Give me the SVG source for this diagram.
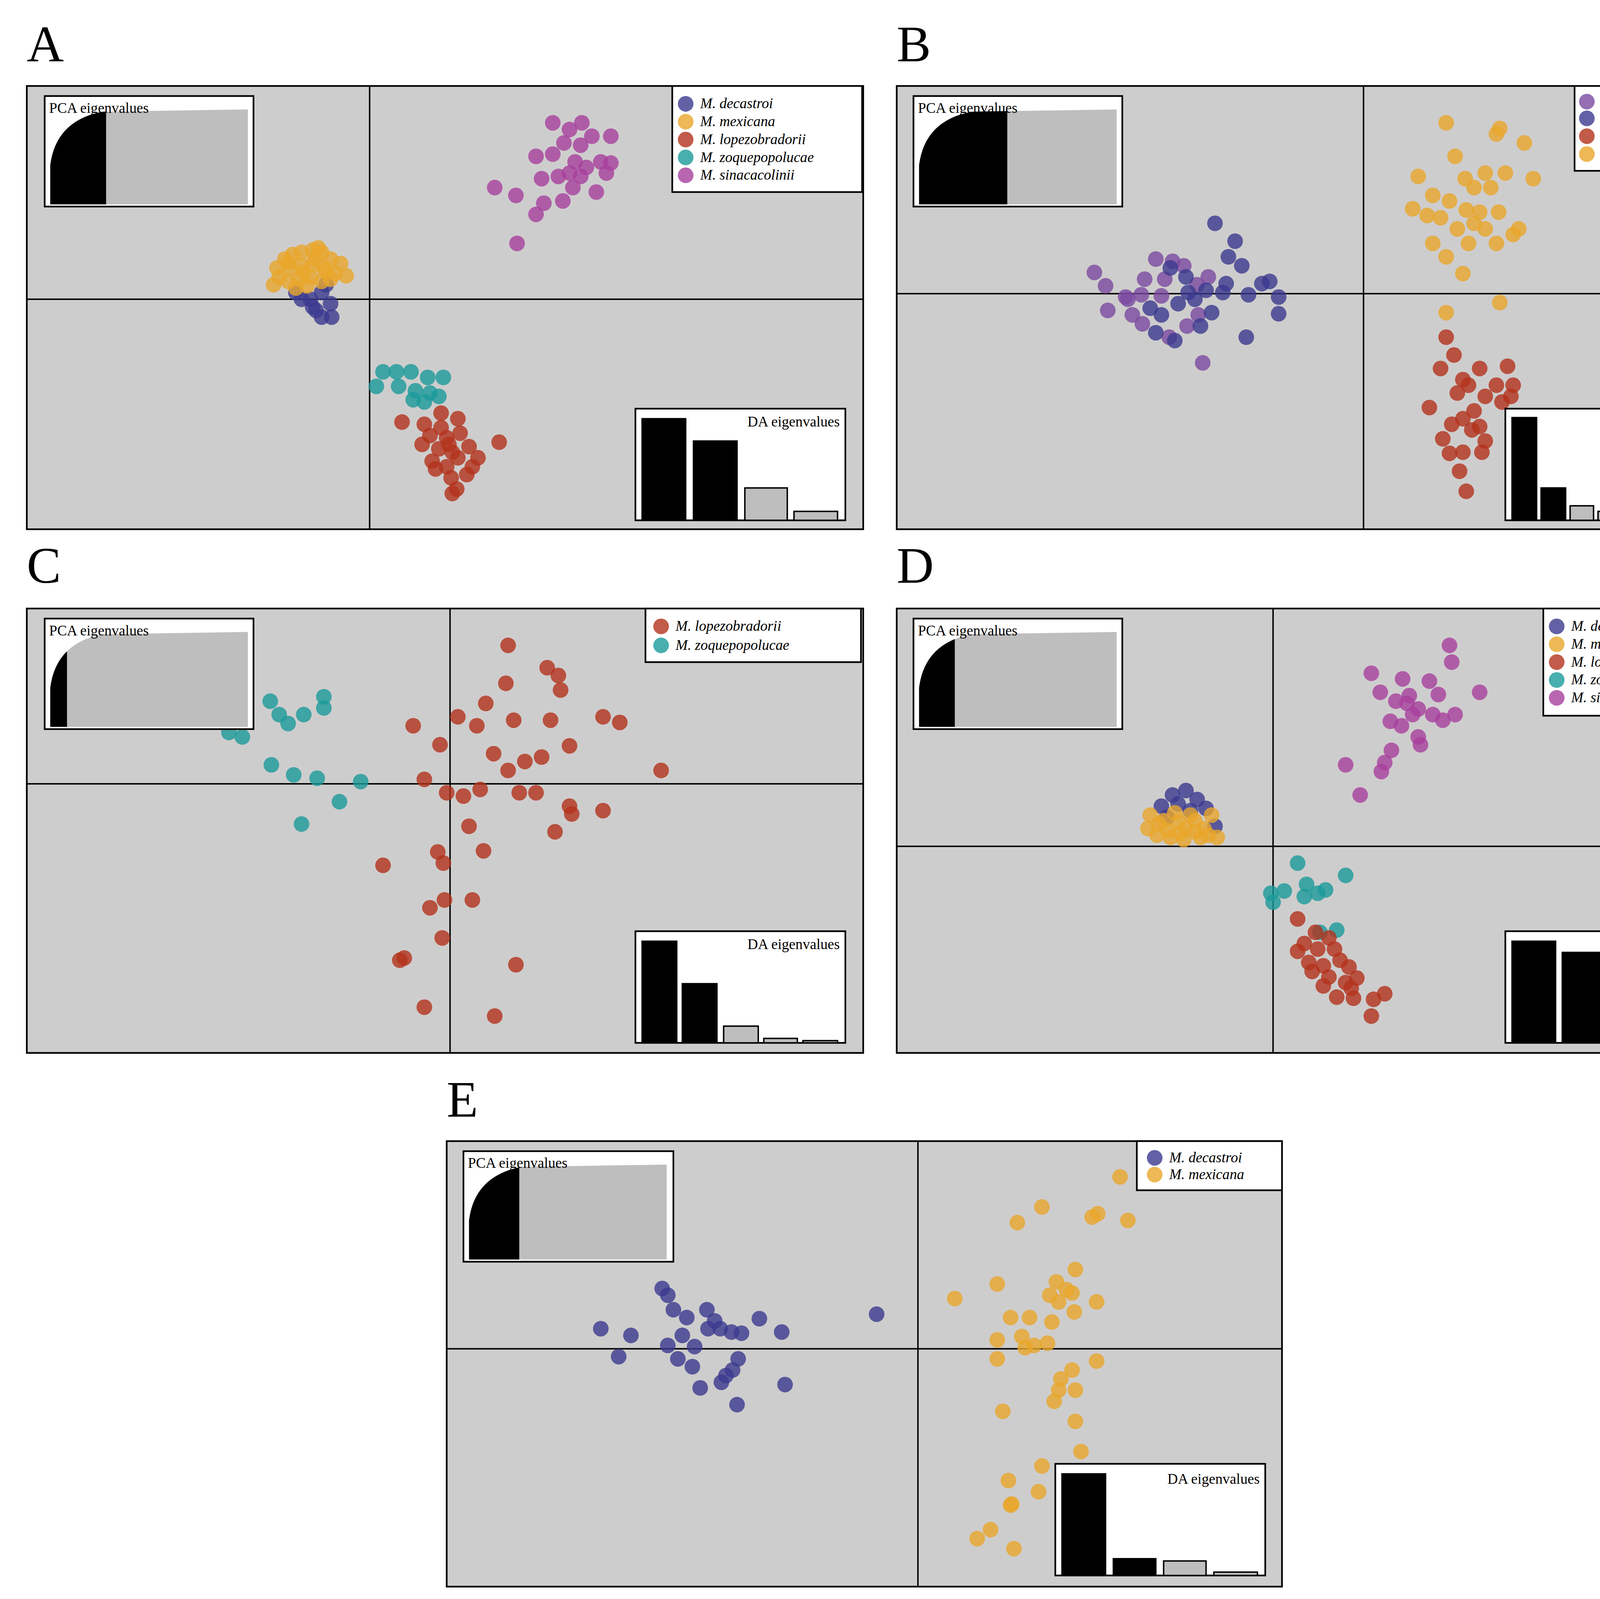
<svg xmlns="http://www.w3.org/2000/svg" width="4474" height="4094" viewBox="0 0 4474 4094">
<style>
.pan{fill:#cecdcd;stroke:#000;stroke-width:1.5}
.ax{stroke:#000;stroke-width:1.3}
.box{fill:#fff;stroke:#000;stroke-width:1.5}
.t{font-family:"Liberation Serif",serif;font-size:13px;fill:#000}
.i{font-style:italic}
.big{font-family:"Liberation Serif",serif;font-size:46px;fill:#000}
.k{fill:#000}
.g{fill:#bfbebe;stroke:#000;stroke-width:1.3}
.kb{fill:#000;stroke:#000;stroke-width:1.3}
circle{r:7px;fill-opacity:0.8}
.dec{fill:#3b3a8e}.mex{fill:#e9a62a}.lop{fill:#b3321c}.zoq{fill:#1c9a9a}.sin{fill:#a8409e}.dcc{fill:#7a4aa0}
</style>
<defs>
<path id="pca" d="M5,97 L5,62 Q10,22 52,14 L182,12 L182,97 Z"/>
<clipPath id="cA"><rect x="0" y="0" width="55" height="100"/></clipPath>
<clipPath id="cB"><rect x="0" y="0" width="84" height="100"/></clipPath>
<clipPath id="cC"><rect x="0" y="0" width="20" height="100"/></clipPath>
<clipPath id="cD"><rect x="0" y="0" width="37" height="100"/></clipPath>
<clipPath id="cE"><rect x="0" y="0" width="50" height="100"/></clipPath>
</defs>
<rect width="4474" height="4094" fill="#fff"/>
<g transform="scale(2.8588)">
<text class="big" x="24" y="55">A</text>
<text class="big" x="803" y="55">B</text>
<text class="big" x="24" y="522">C</text>
<text class="big" x="803" y="522">D</text>
<text class="big" x="400" y="1000">E</text>

<g id="panelA">
<rect class="pan" x="24" y="77" width="749" height="397"/>
<line class="ax" x1="331" y1="77" x2="331" y2="474"/><line class="ax" x1="24" y1="268" x2="773" y2="268"/>
<g class="sin"><circle cx="495" cy="110"/><circle cx="510" cy="116"/><circle cx="521" cy="110"/><circle cx="530" cy="122"/><circle cx="547" cy="122"/><circle cx="505" cy="128"/><circle cx="520" cy="130"/><circle cx="480" cy="140"/><circle cx="495" cy="138"/><circle cx="538" cy="145"/><circle cx="547" cy="146"/><circle cx="525" cy="150"/><circle cx="510" cy="155"/><circle cx="520" cy="158"/><circle cx="485" cy="160"/><circle cx="500" cy="158"/><circle cx="543" cy="155"/><circle cx="534" cy="172"/><circle cx="443" cy="168"/><circle cx="462" cy="175"/><circle cx="513" cy="168"/><circle cx="504" cy="180"/><circle cx="487" cy="182"/><circle cx="480" cy="192"/><circle cx="463" cy="218"/><circle cx="515" cy="145"/></g>
<g class="dec"><circle cx="265" cy="262"/><circle cx="278" cy="268"/><circle cx="288" cy="262"/><circle cx="296" cy="272"/><circle cx="283" cy="278"/><circle cx="270" cy="268"/><circle cx="297" cy="284"/><circle cx="288" cy="284"/><circle cx="280" cy="275"/><circle cx="292" cy="255"/></g>
<g class="mex"><circle cx="248" cy="240"/><circle cx="255" cy="232"/><circle cx="262" cy="228"/><circle cx="270" cy="226"/><circle cx="280" cy="224"/><circle cx="288" cy="226"/><circle cx="296" cy="232"/><circle cx="305" cy="236"/><circle cx="310" cy="247"/><circle cx="300" cy="245"/><circle cx="290" cy="240"/><circle cx="280" cy="237"/><circle cx="270" cy="238"/><circle cx="260" cy="240"/><circle cx="250" cy="248"/><circle cx="245" cy="255"/><circle cx="258" cy="252"/><circle cx="268" cy="250"/><circle cx="278" cy="248"/><circle cx="288" cy="252"/><circle cx="296" cy="250"/><circle cx="265" cy="258"/><circle cx="275" cy="256"/><circle cx="285" cy="222"/><circle cx="258" cy="235"/><circle cx="272" cy="244"/><circle cx="282" cy="232"/><circle cx="292" cy="243"/></g>
<g class="zoq"><circle cx="343" cy="333"/><circle cx="355" cy="333"/><circle cx="368" cy="333"/><circle cx="383" cy="338"/><circle cx="397" cy="338"/><circle cx="337" cy="346"/><circle cx="357" cy="346"/><circle cx="372" cy="350"/><circle cx="385" cy="352"/><circle cx="393" cy="355"/><circle cx="380" cy="360"/><circle cx="370" cy="358"/></g>
<g class="lop"><circle cx="360" cy="378"/><circle cx="380" cy="380"/><circle cx="395" cy="370"/><circle cx="410" cy="375"/><circle cx="385" cy="390"/><circle cx="400" cy="392"/><circle cx="412" cy="388"/><circle cx="378" cy="398"/><circle cx="393" cy="402"/><circle cx="405" cy="405"/><circle cx="420" cy="400"/><circle cx="447" cy="396"/><circle cx="387" cy="413"/><circle cx="400" cy="418"/><circle cx="410" cy="410"/><circle cx="423" cy="418"/><circle cx="428" cy="410"/><circle cx="390" cy="420"/><circle cx="404" cy="428"/><circle cx="418" cy="425"/><circle cx="409" cy="438"/><circle cx="405" cy="442"/><circle cx="395" cy="383"/><circle cx="402" cy="398"/></g>
<g transform="translate(40,86)"><rect class="box" width="187" height="99"/><use href="#pca" fill="#bfbebe"/><use href="#pca" fill="#000" clip-path="url(#cA)"/><text class="t" x="4" y="15">PCA eigenvalues</text></g>
<g><rect class="box" x="602" y="77" width="170" height="95"/>
<circle class="dec" cx="614" cy="93" r="6"/><text class="t i" x="627" y="97">M. decastroi</text>
<circle class="mex" cx="614" cy="109" r="6"/><text class="t i" x="627" y="113">M. mexicana</text>
<circle class="lop" cx="614" cy="125" r="6"/><text class="t i" x="627" y="129">M. lopezobradorii</text>
<circle class="zoq" cx="614" cy="141" r="6"/><text class="t i" x="627" y="145">M. zoquepopolucae</text>
<circle class="sin" cx="614" cy="157" r="6"/><text class="t i" x="627" y="161">M. sinacacolinii</text></g>
<g><rect class="box" x="569" y="366" width="188" height="100"/><text class="t" x="752" y="382" text-anchor="end">DA eigenvalues</text>
<rect class="kb" x="575" y="375" width="39" height="91"/><rect class="kb" x="621" y="395" width="39" height="71"/><rect class="g" x="667" y="437" width="38" height="29"/><rect class="g" x="711" y="458" width="39" height="8"/></g>
</g>

<g id="panelB">
<rect class="pan" x="803" y="77" width="748" height="397"/>
<line class="ax" x1="1221" y1="77" x2="1221" y2="474"/><line class="ax" x1="803" y1="263" x2="1551" y2="263"/>
<g class="dcc"><circle cx="980" cy="244"/><circle cx="990" cy="256"/><circle cx="1008" cy="266"/><circle cx="992" cy="278"/><circle cx="1014" cy="282"/><circle cx="1010" cy="268"/><circle cx="1022" cy="264"/><circle cx="1035" cy="232"/><circle cx="1050" cy="234"/><circle cx="1025" cy="250"/><circle cx="1043" cy="250"/><circle cx="1060" cy="238"/><circle cx="1082" cy="248"/><circle cx="1077" cy="325"/><circle cx="1047" cy="302"/><circle cx="1063" cy="292"/><circle cx="1073" cy="282"/><circle cx="1023" cy="290"/><circle cx="1040" cy="265"/><circle cx="1072" cy="255"/></g>
<g class="dec"><circle cx="1088" cy="200"/><circle cx="1106" cy="216"/><circle cx="1100" cy="230"/><circle cx="1112" cy="238"/><circle cx="1137" cy="252"/><circle cx="1130" cy="254"/><circle cx="1145" cy="266"/><circle cx="1145" cy="281"/><circle cx="1118" cy="264"/><circle cx="1098" cy="254"/><circle cx="1080" cy="260"/><circle cx="1064" cy="262"/><circle cx="1055" cy="272"/><circle cx="1040" cy="282"/><circle cx="1030" cy="276"/><circle cx="1052" cy="305"/><circle cx="1035" cy="298"/><circle cx="1085" cy="280"/><circle cx="1075" cy="292"/><circle cx="1116" cy="302"/><circle cx="1095" cy="262"/><circle cx="1070" cy="268"/><circle cx="1048" cy="240"/><circle cx="1062" cy="248"/></g>
<g class="mex"><circle cx="1295" cy="110"/><circle cx="1343" cy="115"/><circle cx="1365" cy="128"/><circle cx="1340" cy="120"/><circle cx="1303" cy="140"/><circle cx="1270" cy="158"/><circle cx="1283" cy="175"/><circle cx="1265" cy="187"/><circle cx="1278" cy="193"/><circle cx="1298" cy="180"/><circle cx="1312" cy="160"/><circle cx="1330" cy="155"/><circle cx="1348" cy="155"/><circle cx="1373" cy="160"/><circle cx="1320" cy="168"/><circle cx="1335" cy="168"/><circle cx="1313" cy="188"/><circle cx="1320" cy="200"/><circle cx="1342" cy="190"/><circle cx="1305" cy="205"/><circle cx="1330" cy="205"/><circle cx="1355" cy="210"/><circle cx="1360" cy="205"/><circle cx="1283" cy="218"/><circle cx="1295" cy="230"/><circle cx="1315" cy="218"/><circle cx="1340" cy="218"/><circle cx="1310" cy="245"/><circle cx="1295" cy="280"/><circle cx="1343" cy="271"/><circle cx="1290" cy="195"/><circle cx="1325" cy="190"/></g>
<g class="lop"><circle cx="1295" cy="302"/><circle cx="1302" cy="318"/><circle cx="1290" cy="330"/><circle cx="1310" cy="340"/><circle cx="1325" cy="330"/><circle cx="1350" cy="328"/><circle cx="1340" cy="345"/><circle cx="1355" cy="345"/><circle cx="1330" cy="355"/><circle cx="1315" cy="345"/><circle cx="1305" cy="352"/><circle cx="1345" cy="360"/><circle cx="1320" cy="368"/><circle cx="1280" cy="365"/><circle cx="1310" cy="375"/><circle cx="1300" cy="380"/><circle cx="1325" cy="382"/><circle cx="1292" cy="393"/><circle cx="1318" cy="385"/><circle cx="1330" cy="395"/><circle cx="1310" cy="405"/><circle cx="1327" cy="405"/><circle cx="1298" cy="406"/><circle cx="1307" cy="422"/><circle cx="1313" cy="440"/><circle cx="1353" cy="355"/></g>
<g transform="translate(818,86)"><rect class="box" width="187" height="99"/><use href="#pca" fill="#bfbebe"/><use href="#pca" fill="#000" clip-path="url(#cB)"/><text class="t" x="4" y="15">PCA eigenvalues</text></g>
<g><rect class="box" x="1410" y="77" width="141" height="76"/>
<circle class="dcc" cx="1421" cy="91" r="6"/><text class="t" x="1433" y="95"><tspan class="i">M. decastroi</tspan> C</text>
<circle class="dec" cx="1421" cy="106" r="6"/><text class="t" x="1433" y="110"><tspan class="i">M. decastroi</tspan> W</text>
<circle class="lop" cx="1421" cy="122" r="6"/><text class="t" x="1433" y="126"><tspan class="i">M. mexicana</tspan> C</text>
<circle class="mex" cx="1421" cy="138" r="6"/><text class="t" x="1433" y="142"><tspan class="i">M. mexicana</tspan> W</text></g>
<g><rect class="box" x="1348" y="366" width="187" height="100"/><text class="t" x="1530" y="382" text-anchor="end">DA eigenvalues</text>
<rect class="kb" x="1354" y="374" width="22" height="92"/><rect class="kb" x="1380" y="437" width="22" height="29"/><rect class="g" x="1406" y="453" width="21" height="13"/><rect class="g" x="1431" y="458" width="21" height="8"/><rect class="g" x="1456" y="461" width="21" height="5"/><rect class="g" x="1481" y="462" width="21" height="4"/><rect class="kb" x="1506" y="463" width="22" height="3"/></g>
</g>

<g id="panelC">
<rect class="pan" x="24" y="545" width="749" height="398"/>
<line class="ax" x1="403" y1="545" x2="403" y2="943"/><line class="ax" x1="24" y1="702" x2="773" y2="702"/>
<g class="lop"><circle cx="455" cy="578"/><circle cx="490" cy="598"/><circle cx="500" cy="605"/><circle cx="502" cy="618"/><circle cx="453" cy="612"/><circle cx="435" cy="630"/><circle cx="460" cy="645"/><circle cx="493" cy="645"/><circle cx="540" cy="642"/><circle cx="555" cy="647"/><circle cx="410" cy="642"/><circle cx="427" cy="650"/><circle cx="370" cy="650"/><circle cx="394" cy="667"/><circle cx="442" cy="675"/><circle cx="485" cy="678"/><circle cx="510" cy="668"/><circle cx="470" cy="682"/><circle cx="455" cy="690"/><circle cx="592" cy="690"/><circle cx="380" cy="698"/><circle cx="400" cy="710"/><circle cx="415" cy="713"/><circle cx="430" cy="707"/><circle cx="465" cy="710"/><circle cx="480" cy="710"/><circle cx="510" cy="722"/><circle cx="512" cy="729"/><circle cx="540" cy="726"/><circle cx="420" cy="740"/><circle cx="497" cy="745"/><circle cx="433" cy="762"/><circle cx="392" cy="763"/><circle cx="397" cy="773"/><circle cx="343" cy="775"/><circle cx="398" cy="806"/><circle cx="385" cy="813"/><circle cx="423" cy="806"/><circle cx="396" cy="840"/><circle cx="362" cy="858"/><circle cx="358" cy="860"/><circle cx="462" cy="864"/><circle cx="380" cy="902"/><circle cx="443" cy="910"/></g>
<g class="zoq"><circle cx="242" cy="628"/><circle cx="290" cy="624"/><circle cx="290" cy="634"/><circle cx="272" cy="640"/><circle cx="250" cy="640"/><circle cx="258" cy="648"/><circle cx="205" cy="656"/><circle cx="217" cy="660"/><circle cx="243" cy="685"/><circle cx="263" cy="694"/><circle cx="284" cy="697"/><circle cx="323" cy="700"/><circle cx="304" cy="718"/><circle cx="270" cy="738"/></g>
<g transform="translate(40,554)"><rect class="box" width="187" height="99"/><use href="#pca" fill="#bfbebe"/><use href="#pca" fill="#000" clip-path="url(#cC)"/><text class="t" x="4" y="15">PCA eigenvalues</text></g>
<g><rect class="box" x="578" y="545" width="193" height="48"/>
<circle class="lop" cx="592" cy="561" r="6"/><text class="t i" x="605" y="565">M. lopezobradorii</text>
<circle class="zoq" cx="592" cy="578" r="6"/><text class="t i" x="605" y="582">M. zoquepopolucae</text></g>
<g><rect class="box" x="569" y="834" width="188" height="100"/><text class="t" x="752" y="850" text-anchor="end">DA eigenvalues</text>
<rect class="kb" x="575" y="843" width="31" height="91"/><rect class="kb" x="611" y="881" width="31" height="53"/><rect class="g" x="648" y="919" width="31" height="15"/><rect class="g" x="684" y="930" width="30" height="4"/><rect class="g" x="719" y="932" width="31" height="2"/></g>
</g>

<g id="panelD">
<rect class="pan" x="803" y="545" width="748" height="398"/>
<line class="ax" x1="1140" y1="545" x2="1140" y2="943"/><line class="ax" x1="803" y1="758" x2="1551" y2="758"/>
<g class="sin"><circle cx="1298" cy="578"/><circle cx="1300" cy="593"/><circle cx="1228" cy="603"/><circle cx="1256" cy="608"/><circle cx="1280" cy="610"/><circle cx="1325" cy="620"/><circle cx="1262" cy="623"/><circle cx="1288" cy="622"/><circle cx="1236" cy="620"/><circle cx="1250" cy="628"/><circle cx="1270" cy="635"/><circle cx="1283" cy="640"/><circle cx="1303" cy="640"/><circle cx="1292" cy="645"/><circle cx="1245" cy="646"/><circle cx="1255" cy="650"/><circle cx="1270" cy="660"/><circle cx="1272" cy="667"/><circle cx="1246" cy="672"/><circle cx="1240" cy="683"/><circle cx="1205" cy="685"/><circle cx="1237" cy="691"/><circle cx="1218" cy="712"/><circle cx="1265" cy="640"/><circle cx="1260" cy="630"/></g>
<g class="dec"><circle cx="1040" cy="722"/><circle cx="1050" cy="712"/><circle cx="1062" cy="708"/><circle cx="1072" cy="716"/><circle cx="1080" cy="724"/><circle cx="1055" cy="720"/><circle cx="1066" cy="726"/><circle cx="1088" cy="740"/><circle cx="1045" cy="732"/></g>
<g class="mex"><circle cx="1030" cy="730"/><circle cx="1028" cy="742"/><circle cx="1038" cy="738"/><circle cx="1046" cy="744"/><circle cx="1055" cy="736"/><circle cx="1062" cy="742"/><circle cx="1070" cy="735"/><circle cx="1078" cy="742"/><circle cx="1085" cy="730"/><circle cx="1090" cy="750"/><circle cx="1075" cy="750"/><circle cx="1060" cy="752"/><circle cx="1048" cy="750"/><circle cx="1036" cy="748"/><circle cx="1052" cy="728"/><circle cx="1066" cy="730"/><circle cx="1042" cy="735"/><circle cx="1082" cy="748"/><circle cx="1057" cy="746"/><circle cx="1070" cy="745"/></g>
<g class="zoq"><circle cx="1162" cy="773"/><circle cx="1205" cy="784"/><circle cx="1170" cy="792"/><circle cx="1150" cy="798"/><circle cx="1187" cy="797"/><circle cx="1180" cy="800"/><circle cx="1138" cy="800"/><circle cx="1140" cy="808"/><circle cx="1168" cy="803"/><circle cx="1182" cy="835"/><circle cx="1197" cy="833"/></g>
<g class="lop"><circle cx="1162" cy="823"/><circle cx="1178" cy="835"/><circle cx="1190" cy="840"/><circle cx="1162" cy="852"/><circle cx="1180" cy="850"/><circle cx="1195" cy="850"/><circle cx="1200" cy="860"/><circle cx="1172" cy="862"/><circle cx="1185" cy="865"/><circle cx="1208" cy="866"/><circle cx="1190" cy="875"/><circle cx="1205" cy="880"/><circle cx="1215" cy="876"/><circle cx="1185" cy="883"/><circle cx="1197" cy="893"/><circle cx="1230" cy="895"/><circle cx="1240" cy="890"/><circle cx="1212" cy="894"/><circle cx="1228" cy="910"/><circle cx="1175" cy="870"/><circle cx="1168" cy="845"/><circle cx="1210" cy="885"/></g>
<g transform="translate(818,554)"><rect class="box" width="187" height="99"/><use href="#pca" fill="#bfbebe"/><use href="#pca" fill="#000" clip-path="url(#cD)"/><text class="t" x="4" y="15">PCA eigenvalues</text></g>
<g><rect class="box" x="1382" y="545" width="169" height="96"/>
<circle class="dec" cx="1394" cy="561" r="6"/><text class="t i" x="1407" y="565">M. decastroi</text>
<circle class="mex" cx="1394" cy="577" r="6"/><text class="t i" x="1407" y="581">M. mexicana</text>
<circle class="lop" cx="1394" cy="593" r="6"/><text class="t i" x="1407" y="597">M. lopezobradorii</text>
<circle class="zoq" cx="1394" cy="609" r="6"/><text class="t i" x="1407" y="613">M. zoquepopolucae</text>
<circle class="sin" cx="1394" cy="625" r="6"/><text class="t i" x="1407" y="629">M. sinacacolinii</text></g>
<g><rect class="box" x="1348" y="834" width="187" height="100"/><text class="t" x="1530" y="850" text-anchor="end">DA eigenvalues</text>
<rect class="kb" x="1354" y="843" width="39" height="91"/><rect class="kb" x="1399" y="853" width="39" height="81"/><rect class="g" x="1445" y="910" width="38" height="24"/><rect class="g" x="1490" y="925" width="38" height="9"/></g>
</g>

<g id="panelE">
<rect class="pan" x="400" y="1022" width="748" height="399"/>
<line class="ax" x1="822" y1="1022" x2="822" y2="1421"/><line class="ax" x1="400" y1="1208" x2="1148" y2="1208"/>
<g class="dec"><circle cx="593" cy="1154"/><circle cx="598" cy="1160"/><circle cx="633" cy="1173"/><circle cx="603" cy="1173"/><circle cx="615" cy="1180"/><circle cx="640" cy="1183"/><circle cx="680" cy="1181"/><circle cx="785" cy="1177"/><circle cx="538" cy="1190"/><circle cx="565" cy="1196"/><circle cx="611" cy="1196"/><circle cx="634" cy="1190"/><circle cx="655" cy="1193"/><circle cx="664" cy="1194"/><circle cx="700" cy="1193"/><circle cx="598" cy="1205"/><circle cx="622" cy="1206"/><circle cx="554" cy="1215"/><circle cx="607" cy="1217"/><circle cx="661" cy="1217"/><circle cx="620" cy="1224"/><circle cx="656" cy="1227"/><circle cx="650" cy="1232"/><circle cx="646" cy="1238"/><circle cx="627" cy="1243"/><circle cx="703" cy="1240"/><circle cx="660" cy="1258"/><circle cx="645" cy="1190"/></g>
<g class="mex"><circle cx="1003" cy="1054"/><circle cx="983" cy="1087"/><circle cx="933" cy="1081"/><circle cx="978" cy="1090"/><circle cx="1010" cy="1093"/><circle cx="911" cy="1095"/><circle cx="963" cy="1137"/><circle cx="893" cy="1150"/><circle cx="946" cy="1148"/><circle cx="955" cy="1155"/><circle cx="940" cy="1160"/><circle cx="960" cy="1158"/><circle cx="855" cy="1163"/><circle cx="982" cy="1166"/><circle cx="948" cy="1166"/><circle cx="905" cy="1180"/><circle cx="922" cy="1180"/><circle cx="942" cy="1184"/><circle cx="962" cy="1175"/><circle cx="915" cy="1197"/><circle cx="893" cy="1200"/><circle cx="938" cy="1203"/><circle cx="926" cy="1205"/><circle cx="918" cy="1207"/><circle cx="893" cy="1217"/><circle cx="960" cy="1227"/><circle cx="982" cy="1219"/><circle cx="950" cy="1235"/><circle cx="948" cy="1245"/><circle cx="963" cy="1245"/><circle cx="944" cy="1255"/><circle cx="898" cy="1264"/><circle cx="963" cy="1273"/><circle cx="968" cy="1300"/><circle cx="933" cy="1313"/><circle cx="903" cy="1326"/><circle cx="930" cy="1336"/><circle cx="906" cy="1347"/><circle cx="887" cy="1370"/><circle cx="875" cy="1378"/><circle cx="908" cy="1387"/><circle cx="905" cy="1348"/></g>
<g transform="translate(415,1031)"><rect class="box" width="188" height="99"/><use href="#pca" fill="#bfbebe"/><use href="#pca" fill="#000" clip-path="url(#cE)"/><text class="t" x="4" y="15">PCA eigenvalues</text></g>
<g><rect class="box" x="1018" y="1022" width="130" height="44"/>
<circle class="dec" cx="1034" cy="1037" r="6"/><text class="t i" x="1047" y="1041">M. decastroi</text>
<circle class="mex" cx="1034" cy="1052" r="6"/><text class="t i" x="1047" y="1056">M. mexicana</text></g>
<g><rect class="box" x="945" y="1311" width="188" height="100"/><text class="t" x="1128" y="1329" text-anchor="end">DA eigenvalues</text>
<rect class="kb" x="951" y="1320" width="39" height="91"/><rect class="kb" x="997" y="1396" width="38" height="15"/><rect class="g" x="1042" y="1398" width="38" height="13"/><rect class="g" x="1087" y="1408" width="39" height="3"/></g>
</g>
</g>
</svg>
